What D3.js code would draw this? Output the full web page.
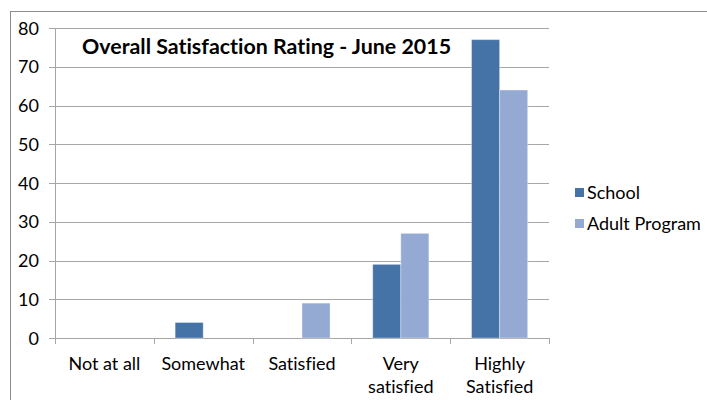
<!DOCTYPE html>
<html>
<head>
<meta charset="utf-8">
<script src="https://cdn.jsdelivr.net/npm/d3@7"></script>
<style>
  body { margin: 0; background: #fff; }
  svg { font-family: Lato, "Open Sans", sans-serif; font-variant-ligatures: none; }
</style>
</head>
<body>
<svg width="707" height="400"></svg>
<script>
const categories = ["Not at all", "Somewhat", "Satisfied", "Very satisfied", "Highly Satisfied"];
const categoryLines = [["Not at all"], ["Somewhat"], ["Satisfied"], ["Very", "satisfied"], ["Highly", "Satisfied"]];
const seriesNames = ["School", "Adult Program"];
const school = [0, 4, 0, 19, 77];
const adult = [0, 0, 9, 27, 64];
const yTicks = [0, 10, 20, 30, 40, 50, 60, 70, 80];
const colors = ["#4572a7", "#95aad3"];

const svg = d3.select("svg");
const margin = { left: 55, right: 158, top: 28, bottom: 62 };
const width = +svg.attr("width");
const height = +svg.attr("height");

// chart border
svg.append("rect")
  .attr("x", 10.5).attr("y", 11.5)
  .attr("width", 720).attr("height", 400)
  .attr("fill", "none").attr("stroke", "#8c8c8c");

const x0 = d3.scaleBand().domain(categories).range([margin.left, width - margin.right]);
const x1 = d3.scaleBand().domain(seriesNames).range([0, x0.bandwidth()]).paddingOuter(0.76);
const y = d3.scaleLinear().domain([0, 80]).range([height - margin.bottom, margin.top]);

// gridlines
svg.append("g").selectAll("line")
  .data(yTicks)
  .join("line")
  .attr("x1", margin.left - 6).attr("x2", width - margin.right)
  .attr("y1", d => Math.round(y(d)) + 0.5).attr("y2", d => Math.round(y(d)) + 0.5)
  .attr("stroke", "#a6a6a6");

// y axis line
svg.append("line")
  .attr("x1", margin.left + 0.5).attr("x2", margin.left + 0.5)
  .attr("y1", y(80)).attr("y2", y(0))
  .attr("stroke", "#a6a6a6");

// x ticks
svg.append("g").selectAll("line")
  .data(d3.range(categories.length + 1))
  .join("line")
  .attr("x1", i => Math.round(margin.left + i * x0.step()) + 0.5)
  .attr("x2", i => Math.round(margin.left + i * x0.step()) + 0.5)
  .attr("y1", y(0)).attr("y2", y(0) + 6)
  .attr("stroke", "#a6a6a6");

// y tick labels
svg.append("g").selectAll("text")
  .data(yTicks)
  .join("text")
  .attr("x", 39).attr("y", d => y(d) + 6.5)
  .attr("text-anchor", "end")
  .attr("font-size", 18)
  .attr("fill", "#000")
  .text(d => d);

// bars
const seriesData = [school, adult];
const groups = svg.append("g").selectAll("g")
  .data(seriesNames)
  .join("g")
  .attr("fill", (d, i) => colors[i]);

groups.selectAll("rect")
  .data((s, i) => categories.map((c, j) => ({ cat: c, series: s, value: seriesData[i][j] })))
  .join("rect")
  .filter(d => d.value > 0)
  .attr("x", d => x0(d.cat) + x1(d.series))
  .attr("width", x1.bandwidth())
  .attr("y", d => y(d.value))
  .attr("height", d => y(0) - y(d.value))
  .attr("stroke", "#ffffff")
  .attr("stroke-opacity", 0.35)
  .attr("stroke-width", 1);

// category labels
svg.append("g").selectAll("text")
  .data(categories)
  .join("text")
  .attr("x", d => x0(d) + x0.bandwidth() / 2)
  .attr("y", 370)
  .attr("text-anchor", "middle")
  .attr("font-size", 18)
  .each(function(d, i) {
    d3.select(this).selectAll("tspan")
      .data(categoryLines[i])
      .join("tspan")
      .attr("x", x0(d) + x0.bandwidth() / 2)
      .attr("dy", (t, k) => k === 0 ? 0 : 23)
      .text(t => t);
  });

// title
svg.append("text")
  .attr("x", 82).attr("y", 54)
  .attr("font-size", 21.4)
  .attr("font-weight", "bold")
  .text("Overall Satisfaction Rating - June 2015");

// legend
const legend = svg.append("g").selectAll("g")
  .data(seriesNames)
  .join("g")
  .attr("transform", (d, i) => `translate(575,${188 + i * 31})`);
legend.append("rect")
  .attr("width", 9).attr("height", 9)
  .attr("fill", (d, i) => colors[i]);
legend.append("text")
  .attr("x", 12).attr("y", 10.5)
  .attr("font-size", 18)
  .text(d => d);
</script>
</body>
</html>
